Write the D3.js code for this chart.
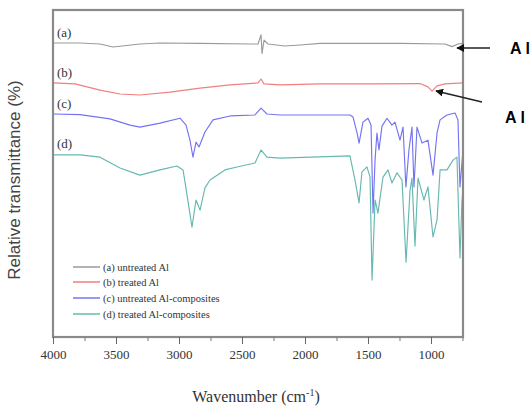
<!DOCTYPE html>
<html>
<head>
<script src="https://d3js.org/d3.v7.min.js"></script>
<style>
    body { margin: 0; background: #fff; }
</style>
</head>
<body>
<svg id="chart" width="532" height="409"></svg>
<script>

// spectra: [wavenumber, relative transmittance]
var untreatedAl = [[4000,89.9],[3786,89.9],[3627,89.6],[3524,88.7],[3452,89.0],[3310,89.6],[3151,89.9],
    [2833,89.8],[2436,89.6],[2373,89.6],[2349,92.4],[2341,86.7],[2325,90.8],[2294,89.6],[2159,89.0],
    [2040,89.3],[1881,89.8],[1246,89.8],[889,89.6],[833,88.8],[786,89.6],[746,89.8]];

var treatedAl = [[4000,77.7],[3825,77.4],[3627,75.5],[3468,74.3],[3310,74.0],[3071,74.9],[2833,76.1],
    [2595,77.1],[2373,77.7],[2349,78.9],[2325,77.4],[2198,77.1],[1881,77.4],[1484,77.4],[1087,77.5],
    [1024,76.5],[992,75.2],[952,76.8],[889,77.4],[746,77.7]];

var untreatedComp = [[4000,68.2],[3786,68.0],[3548,66.7],[3389,64.8],[3310,64.2],[3151,65.4],[2992,66.9],
    [2944,64.8],[2913,60.2],[2889,55.0],[2865,59.6],[2841,58.1],[2794,62.7],[2730,66.4],[2595,67.6],
    [2397,67.9],[2349,70.0],[2302,68.2],[2198,67.9],[1643,67.9],[1619,67.3],[1587,62.4],[1571,59.3],
    [1540,65.7],[1500,66.9],[1476,64.8],[1460,37.9],[1444,54.1],[1429,62.4],[1413,57.2],[1389,64.5],
    [1349,66.9],[1310,64.8],[1286,65.7],[1246,60.2],[1222,64.2],[1199,45.9],[1175,57.2],[1151,64.2],
    [1135,45.9],[1111,64.2],[1071,59.3],[1024,60.2],[984,49.5],[952,62.4],[928,66.4],[873,67.9],
    [809,68.5],[786,66.4],[770,45.9],[746,57.2]];

var treatedComp = [[4000,55.7],[3786,55.7],[3627,55.0],[3468,51.7],[3310,49.5],[3151,51.1],[3016,52.3],
    [2968,51.1],[2936,43.4],[2897,33.6],[2865,41.9],[2833,38.8],[2794,45.6],[2754,48.0],[2635,51.1],
    [2540,52.0],[2397,53.2],[2349,57.2],[2302,55.0],[2198,54.7],[1643,55.4],[1603,48.0],[1571,41.0],
    [1548,50.5],[1508,52.0],[1484,48.9],[1468,17.4],[1444,41.9],[1421,37.9],[1381,48.9],[1341,51.1],
    [1310,47.1],[1270,50.2],[1230,48.0],[1198,22.9],[1167,44.6],[1151,48.6],[1127,27.8],[1103,48.6],
    [1056,41.9],[1024,45.9],[984,30.6],[952,35.8],[928,51.1],[873,51.1],[825,54.1],[794,55.0],
    [770,24.2],[754,41.9],[746,45.0]];

var seriesNames = ["(a) untreated Al", "(b) treated Al", "(c) untreated Al-composites", "(d) treated Al-composites"];
var curveTags = ["(a)", "(b)", "(c)", "(d)"];
var colors = ["#9a9a9a", "#f27e7e", "#7474f2", "#66b8b0"];
var xTicks = [4000, 3500, 3000, 2500, 2000, 1500, 1000];

var plotLeft = 53, plotRight = 463, plotTop = 10, plotBottom = 337;

var svg = d3.select("#chart");

var x = d3.scaleLinear().domain([4000, 746]).range([plotLeft, plotRight]);
var y = d3.scaleLinear().domain([0, 100]).range([plotBottom, plotTop]);

var line = d3.line()
    .x(function(d) { return x(d[0]); })
    .y(function(d) { return y(d[1]); });

var allSeries = [untreatedAl, treatedAl, untreatedComp, treatedComp];

// draw d first so c sits on top like in the picture
[3, 2, 1, 0].forEach(function(i) {
    svg.append("path")
        .datum(allSeries[i])
        .attr("fill", "none")
        .attr("stroke", colors[i])
        .attr("stroke-width", 1.15)
        .attr("stroke-linejoin", "round")
        .attr("d", line);
});

// curve tags
var tagY = [37, 77, 108, 148];
curveTags.forEach(function(t, i) {
    svg.append("text")
        .attr("x", 57).attr("y", tagY[i])
        .style("font", "13px 'Liberation Serif', serif")
        .style("fill", "#333")
        .text(t);
});

// frame
svg.append("rect")
    .attr("x", plotLeft).attr("y", plotTop)
    .attr("width", plotRight - plotLeft).attr("height", plotBottom - plotTop)
    .attr("fill", "none")
    .attr("stroke", "#8a8a8a")
    .attr("stroke-width", 2.2);

// bottom axis with minor ticks
var xMinor = svg.append("g").attr("transform", "translate(0," + plotBottom + ")");
xMinor.call(d3.axisBottom(x).tickValues(d3.range(3750, 746, -500)).tickSize(4).tickFormat(""))
    .call(function(g) { g.select(".domain").remove(); });
xMinor.selectAll("line").attr("stroke", "#777");

var xMajor = svg.append("g").attr("transform", "translate(0," + plotBottom + ")");
xMajor.call(d3.axisBottom(x).tickValues(xTicks).tickSize(7).tickPadding(6).tickFormat(d3.format("d")))
    .call(function(g) { g.select(".domain").remove(); });
xMajor.selectAll("line").attr("stroke", "#666");
xMajor.selectAll("text")
    .style("font", "13px 'Liberation Serif', serif")
    .style("fill", "#333");

svg.append("text")
    .attr("x", 256).attr("y", 402)
    .attr("text-anchor", "middle")
    .style("font", "16px 'Liberation Serif', serif")
    .style("fill", "#333")
    .html("Wavenumber (cm<tspan dy='-6' font-size='10'>-1</tspan><tspan dy='6'>)</tspan>");

svg.append("text")
    .attr("transform", "translate(20,180) rotate(-90)")
    .attr("text-anchor", "middle")
    .style("font", "17px 'Liberation Sans', sans-serif")
    .style("fill", "#444")
    .text("Relative transmittance (%)");

// legend
var legY = [267, 282, 298, 314];
seriesNames.forEach(function(name, i) {
    svg.append("line")
        .attr("x1", 73).attr("x2", 100)
        .attr("y1", legY[i]).attr("y2", legY[i])
        .attr("stroke", colors[i]).attr("stroke-width", 1.5);
    svg.append("text")
        .attr("x", 103).attr("y", legY[i] + 3.5)
        .style("font", "10.5px 'Liberation Serif', serif")
        .style("fill", "#333")
        .text(name);
});

// arrows pointing at the Al bands
svg.append("defs").append("marker")
    .attr("id", "head")
    .attr("viewBox", "0 0 10 10")
    .attr("refX", 9).attr("refY", 5)
    .attr("markerWidth", 6).attr("markerHeight", 6)
    .attr("orient", "auto")
    .append("path").attr("d", "M0,0L10,5L0,10z").attr("fill", "#111");

svg.append("line")
    .attr("x1", 490).attr("y1", 48).attr("x2", 457).attr("y2", 48)
    .attr("stroke", "#222").attr("stroke-width", 1.3)
    .attr("marker-end", "url(#head)");
svg.append("line")
    .attr("x1", 482).attr("y1", 102).attr("x2", 436).attr("y2", 91)
    .attr("stroke", "#222").attr("stroke-width", 1.3)
    .attr("marker-end", "url(#head)");

svg.append("text").attr("x", 510).attr("y", 54)
    .style("font", "bold 16px 'Liberation Sans', sans-serif").text("A l");
svg.append("text").attr("x", 505).attr("y", 123)
    .style("font", "bold 16px 'Liberation Sans', sans-serif").text("A l");

</script>
</body>
</html>
